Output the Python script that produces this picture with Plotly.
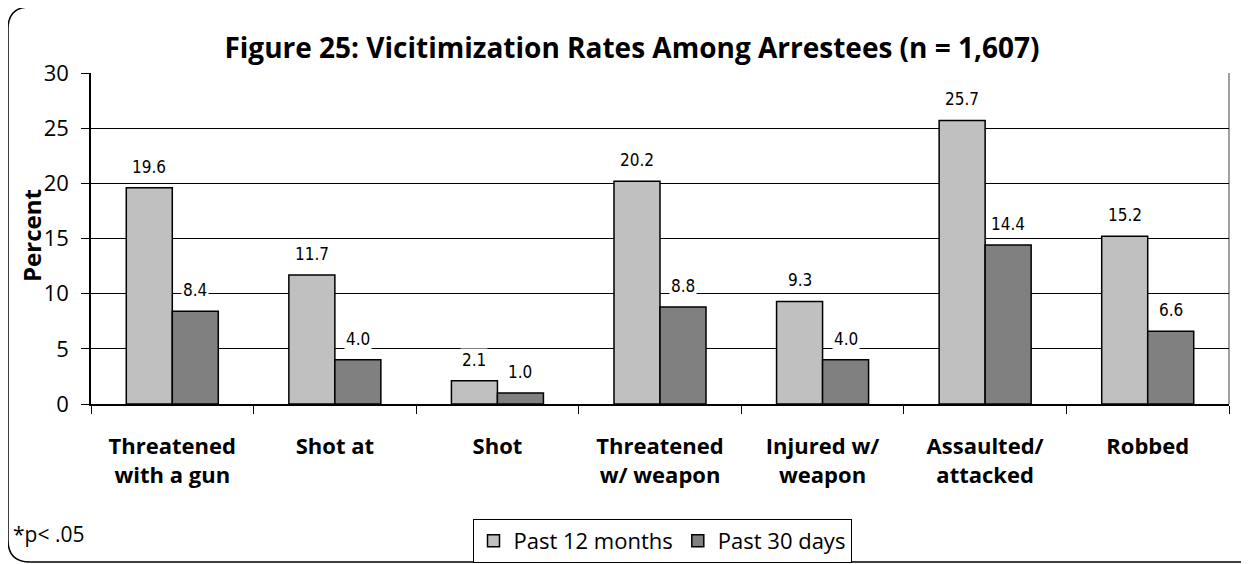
import plotly.graph_objects as go

categories = ["Threatened<br>with a gun", "Shot at", "Shot", "Threatened<br>w/ weapon",
              "Injured w/<br>weapon", "Assaulted/<br>attacked", "Robbed"]
past_12_months = [19.6, 11.7, 2.1, 20.2, 9.3, 25.7, 15.2]
past_30_days = [8.4, 4.0, 1.0, 8.8, 4.0, 14.4, 6.6]
series_names = ["Past 12 months", "Past 30 days"]
y_ticks = [0, 5, 10, 15, 20, 25, 30]

# the page body adds an 8px margin, so work in screen pixels minus 8
OFF = 8
W, H = 1249 - OFF, 564 - OFF
L, R, T, B = 91 - OFF, 1229 - OFF, 73 - OFF, 404 - OFF
FONT = "Open Sans, DejaVu Sans, sans-serif"
LABEL_FONT = "Liberation Sans Narrow, DejaVu Sans Condensed, Open Sans, sans-serif"


def px(x):
    return (x - OFF - L) / (R - L)


def py(y):
    return (B - (y - OFF)) / (B - T)


fig = go.Figure()
for name, vals, color in [(series_names[0], past_12_months, "#c0c0c0"),
                          (series_names[1], past_30_days, "#808080")]:
    fig.add_trace(go.Bar(
        x=categories, y=vals, name=name,
        marker=dict(color=color, line=dict(color="black", width=1.5)),
    ))

# value labels with a white box that hides the gridlines
annotations = []
for vals, shift in [(past_12_months, -23), (past_30_days, 23)]:
    for c, v in zip(categories, vals):
        annotations.append(dict(
            x=c, y=v, text=f"{v:.1f}", showarrow=False, xshift=shift, yshift=9,
            yanchor="bottom", bgcolor="white", borderpad=1,
            font=dict(family=LABEL_FONT, size=17, color="black"),
        ))
annotations.append(dict(
    x=px(11), y=py(534), xref="paper", yref="paper", text="*p< .05",
    showarrow=False, xanchor="left", yanchor="middle",
    font=dict(family=FONT, size=21, color="black"),
))
# y axis title
annotations.append(dict(
    x=px(31), y=py(236), xref="paper", yref="paper", text="Percent", textangle=-90,
    showarrow=False, xanchor="center", yanchor="middle",
    font=dict(family=FONT, size=24, color="black", weight="bold"),
))

# rounded outer frame
x0, x1, y0, y1, r = 8, 1270, 7, 562, 22
frame = (f"M {px(x0)},{py(y0 + r)} L {px(x0)},{py(y1 - r)} "
         f"Q {px(x0)},{py(y1)} {px(x0 + r)},{py(y1)} L {px(x1 - r)},{py(y1)} "
         f"Q {px(x1)},{py(y1)} {px(x1)},{py(y1 - r)} L {px(x1)},{py(y0 + r)} "
         f"Q {px(x1)},{py(y0)} {px(x1 - r)},{py(y0)} L {px(x0 + r)},{py(y0)} "
         f"Q {px(x0)},{py(y0)} {px(x0)},{py(y0 + r)} Z")
shapes = [
    dict(type="path", path=frame, xref="paper", yref="paper",
         line=dict(color="black", width=1.5), layer="above"),
    dict(type="line", x0=1, x1=1, y0=0, y1=1, xref="paper", yref="paper",
         line=dict(color="#808080", width=1.5), layer="below"),
]

fig.update_layout(
    width=W, height=H,
    margin=dict(l=L, r=W - R, t=T, b=H - B, autoexpand=False),
    paper_bgcolor="white", plot_bgcolor="white",
    barmode="group", bargap=0.434, bargroupgap=0,
    title=dict(text="Figure 25: Vicitimization Rates Among Arrestees (n = 1,607)",
               x=(632 - OFF) / W, xanchor="center", y=1 - (48 - OFF) / H, yanchor="middle",
               font=dict(family=FONT, size=28, color="black", weight="bold")),
    xaxis=dict(tickson="boundaries", ticks="outside", ticklen=8, tickcolor="black",
               showline=True, linecolor="black", linewidth=1.5, showgrid=False,
               automargin=False, ticklabelstandoff=22,
               tickfont=dict(family=FONT, size=22, color="black", weight="bold")),
    yaxis=dict(range=[0, 30], tickvals=y_ticks, ticks="outside", ticklen=8,
               tickcolor="black", showline=True, linecolor="black", linewidth=1.5,
               showgrid=True, gridcolor="black", gridwidth=1, zeroline=False,
               automargin=False, ticklabelstandoff=8,
               tickfont=dict(family=FONT, size=22, color="black")),
    legend=dict(orientation="h", x=px(662), y=py(541), xanchor="center", yanchor="middle",
                bordercolor="black", borderwidth=1, bgcolor="white",
                font=dict(family=FONT, size=22, color="black"),
                itemwidth=30, tracegroupgap=0),
    annotations=annotations,
    shapes=shapes,
    showlegend=True,
)

fig.write_html("out.html")
